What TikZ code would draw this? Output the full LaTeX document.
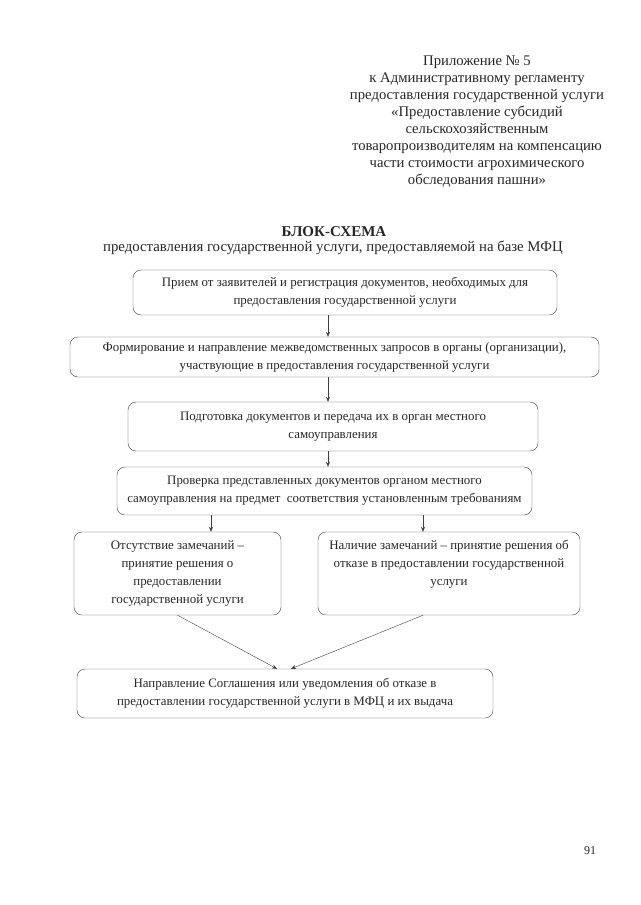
\documentclass[tikz,border=0pt]{standalone}
\usepackage{fontspec}
\setmainfont{Liberation Serif}
\usetikzlibrary{arrows.meta}

\tikzset{
  blok/.style={draw=black!75, rounded corners=8pt, align=center, inner xsep=4pt, inner ysep=0pt,
    font=\fontsize{12.9}{18}\selectfont, text=black!85},
  strelka/.style={draw=black!75, -{Stealth[length=5pt,width=4pt]}},
}

\begin{document}
\begin{tikzpicture}[x=1pt, y=-1pt, thin]
    \useasboundingbox (0,0) rectangle (640,905); % ページ全体
    \node[font=\fontsize{14.7}{17}\selectfont, align=center, text=black!85] (pril) at (477,122)
      {Приложение № 5\\ к Административному регламенту\\ предоставления государственной услуги\\
       «Предоставление субсидий\\ сельскохозяйственным\\ товаропроизводителям на компенсацию\\
       части стоимости агрохимического\\ обследования пашни»}; % 右上の見出し

    \node[font=\fontsize{15}{17}\bfseries, text=black!85] (zag) at (334,232) {БЛОК-СХЕМА}; % 表題
    \node[font=\fontsize{14.8}{17}\selectfont, text=black!85] (podzag) at (333,248)
      {предоставления государственной услуги, предоставляемой на базе МФЦ};

    \node[blok, minimum width=424, minimum height=45] (b1) at (345,292.5)
      {Прием от заявителей и регистрация документов, необходимых для\\ предоставления государственной услуги};
    \node[blok, minimum width=529, minimum height=40] (b2) at (334.5,357)
      {Формирование и направление межведомственных запросов в органы (организации),\\ участвующие в предоставления государственной услуги};
    \node[blok, minimum width=410, minimum height=49] (b3) at (333,426.5)
      {Подготовка документов и передача их в орган местного\\ самоуправления};
    \node[blok, minimum width=415, minimum height=48] (b4) at (324.5,491)
      {Проверка представленных документов органом местного\\ самоуправления на предмет\ \ соответствия установленным требованиям};
    \node[blok, minimum width=207, minimum height=83] (b5) at (177.5,573.5)
      {Отсутствие замечаний –\\ принятие решения о\\ предоставлении\\ государственной услуги};
    \node[blok, minimum width=262, minimum height=83, text depth=21pt] (b6) at (449,573.5)
      {Наличие замечаний – принятие решения об\\ отказе в предоставлении государственной\\ услуги};
    \node[blok, minimum width=416, minimum height=49] (b7) at (285,693.5)
      {Направление Соглашения или уведомления об отказе в\\ предоставлении государственной услуги в МФЦ и их выдача};

    \coordinate (os) at (328,0); % 矢印の位置
    \coordinate (lv) at (211,0);
    \coordinate (pr) at (423,0);
    \coordinate (v1) at (277,0);
    \coordinate (v2) at (291,0);

    \draw[strelka] (b1.south -| os) -- (b2.north -| os);
    \draw[strelka] (b2.south -| os) -- (b3.north -| os);
    \draw[strelka] (b3.south -| os) -- (b4.north -| os);
    \draw[strelka] (b4.south -| lv) -- (b5.north -| lv);
    \draw[strelka] (b4.south -| pr) -- (b6.north -| pr);
    \draw[strelka] (b5.south) -- (b7.north -| v1); % 合流
    \draw[strelka] (b6.south -| pr) -- (b7.north -| v2);

    \node[font=\fontsize{12}{14}\selectfont, text=black!85] (str) at (590,851) {91}; % ページ番号
\end{tikzpicture}
\end{document}
